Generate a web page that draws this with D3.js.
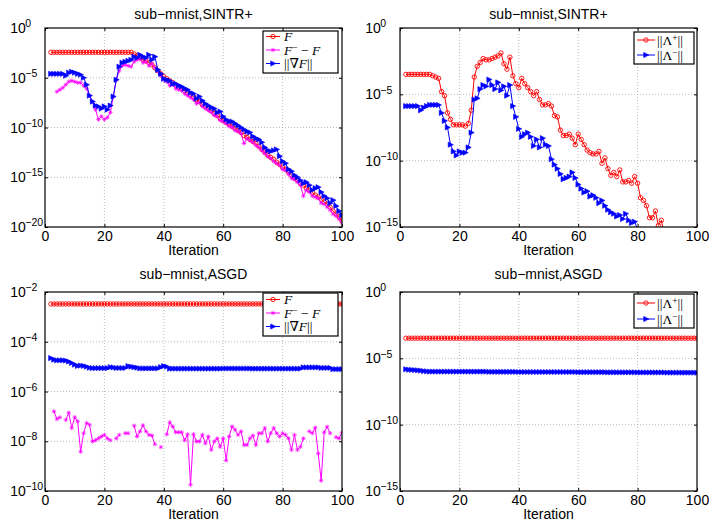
<!DOCTYPE html>
<html>
<head>
<meta charset="utf-8">
<script src="https://cdn.jsdelivr.net/npm/d3@7"></script>
<style>
  body { margin: 0; background: #fff; }
  svg { font-family: "Liberation Sans", Arial, Helvetica, sans-serif; }
</style>
</head>
<body>
<svg id="fig" width="709" height="525"></svg>
<script>
// iterations 2..100
const iterations = d3.range(2, 101);
const xTicks = [0, 20, 40, 60, 80, 100];

// ---- sub-mnist, SINTR+ (left) ----
const sintrF = [
  3.6e-3, 3.6e-3, 3.6e-3, 3.6e-3, 3.6e-3, 3.6e-3, 3.6e-3, 3.6e-3,
  3.6e-3, 3.6e-3, 3.6e-3, 3.6e-3, 3.6e-3, 3.6e-3, 3.6e-3, 3.6e-3, 3.6e-3, 3.6e-3,
  3.6e-3, 3.6e-3, 3.6e-3, 3.6e-3, 3.6e-3, 3.6e-3, 3.6e-3, 3.6e-3, 3.6e-3, 3.6e-3,
  2.5e-3, 1.6e-3, 1e-3, 6.3e-4, 5.0e-4, 3.2e-4, 2.0e-4, 1e-4, 5.0e-5, 2.5e-5,
  1.3e-5, 7.9e-6, 5.0e-6, 3.2e-6, 2.0e-6, 1.3e-6, 7.9e-7, 5.0e-7, 3.2e-7, 2.0e-7,
  1.3e-7, 6.3e-8, 4.0e-8, 2.0e-8, 1.3e-8, 7.9e-9, 5.0e-9, 2.5e-9, 1.6e-9, 7.9e-10,
  5.0e-10, 3.2e-10, 2.0e-10, 1.3e-10, 7.9e-11, 5.0e-11, 3.2e-11, 1.6e-11, 1e-11, 6.3e-12,
  4.0e-12, 2.5e-12, 1.3e-12, 6.3e-13, 3.2e-13, 1.6e-13, 1e-13, 6.3e-14, 3.2e-14, 2.0e-14,
  1e-14, 6.3e-15, 3.2e-15, 1.6e-15, 7.9e-16, 5.0e-16, 2.5e-16, 1.6e-16, 7.9e-17, 5.0e-17,
  3.2e-17, 1.6e-17, 1e-17, 6.3e-18, 3.2e-18, 2.0e-18, 1e-18, 4.0e-19, 2.0e-19, 1e-19,
  4.0e-20
];
const sintrGap = [
  null, null, 4.0e-7, 6.3e-7, 1e-6, 2.0e-6, 4.0e-6, 5.0e-6,
  4.0e-6, 3.2e-6, 3.2e-6, 1.6e-6, 7.9e-7, 1.6e-7, 4.0e-8, 6.3e-9, 6.3e-10, 1.3e-9,
  6.3e-10, 1e-9, 3.2e-9, 1.3e-7, 6.3e-6, 5.0e-5, 1.6e-4, 2.0e-4, 1.6e-4, 1.3e-4,
  4.0e-4, 6.3e-4, 7.9e-4, 3.2e-4, 4.0e-4, 1.6e-4, 2.5e-4, 1e-4, 5.0e-5, 1.6e-5,
  6.3e-6, 4.0e-6, 1.6e-6, 2.0e-6, 7.9e-7, 6.3e-7, 5.0e-7, 2.5e-7, 1.6e-7, 1e-7,
  6.3e-8, 2.5e-8, 3.2e-8, 1.3e-8, 7.9e-9, 5.0e-9, 3.2e-9, 1.6e-9, 1.3e-9, 5.0e-10,
  4.0e-10, 2.5e-10, 1.3e-10, 1e-10, 5.0e-11, 4.0e-11, 2.5e-11, 2.5e-12, 7.9e-12, 5.0e-12,
  3.2e-12, 1.6e-12, 1e-12, 5.0e-13, 2.5e-13, 1.3e-13, 7.9e-14, 4.0e-14, 2.5e-14, 1.6e-14,
  6.3e-15, 5.0e-15, 2.0e-15, 7.9e-16, 6.3e-16, 3.2e-16, 1.6e-16, 1.3e-17, 5.0e-17, 3.2e-17,
  1.3e-17, 1e-17, 7.9e-18, 2.5e-18, 2.0e-18, 1e-18, 5.0e-19, 2.0e-19, 1.3e-19, 6.3e-20,
  2.5e-20
];
const sintrGrad = [
  2.5e-5, 2.5e-5, 2.5e-5, 2.5e-5, 2.5e-5, 1.6e-5, 3.2e-5, 4.0e-5,
  3.2e-5, 2.5e-5, 2.0e-5, 1e-5, 2.0e-6, 1.6e-7, 4.0e-8, 1.6e-8, 1.3e-8, 7.9e-9,
  1.3e-8, 6.3e-9, 1.6e-8, 1.3e-7, 6.3e-6, 1.3e-4, 3.2e-4, 4.0e-4, 5.0e-4, 6.3e-4,
  1.3e-3, 1e-3, 2.0e-3, 1.3e-3, 1e-3, 2.0e-3, 6.3e-4, 1.3e-3, 6.3e-5, 2.5e-5,
  7.9e-6, 6.3e-6, 5.0e-6, 2.5e-6, 2.5e-6, 1.6e-6, 1.3e-6, 7.9e-7, 6.3e-7, 3.2e-7,
  2.5e-7, 7.9e-8, 1.3e-7, 5.0e-8, 2.5e-8, 1.6e-8, 1e-8, 7.9e-9, 3.2e-9, 4.0e-9,
  1.3e-9, 6.3e-10, 4.0e-10, 4.0e-10, 2.5e-10, 1.6e-10, 1e-10, 6.3e-11, 4.0e-11, 3.2e-11,
  1.3e-11, 7.9e-12, 6.3e-12, 3.2e-12, 1e-12, 5.0e-13, 4.0e-13, 5.0e-13, 6.3e-13, 1.3e-13,
  4.0e-14, 2.5e-14, 6.3e-15, 4.0e-15, 1.6e-15, 1e-15, 5.0e-16, 2.5e-16, 3.2e-16, 1.6e-16,
  5.0e-17, 7.9e-17, 1e-16, 3.2e-17, 1.3e-17, 7.9e-18, 2.5e-18, 5.0e-18, 1.3e-18, 4.0e-19,
  1.6e-19
];

// ---- sub-mnist, SINTR+ (right) ----
const sintrLamPlus = [
  3.2e-4, 3.2e-4, 3.2e-4, 3.2e-4, 3.2e-4, 3.2e-4, 3.2e-4, 3.2e-4,
  3.2e-4, 2.5e-4, 2.0e-4, 1.6e-4, 1.6e-5, 7.9e-6, 4.0e-7, 1.3e-7, 5.0e-8, 5.0e-8,
  5.0e-8, 5.0e-8, 4.0e-8, 6.3e-8, 6.3e-7, 2.0e-4, 1.3e-3, 2.5e-3, 5.0e-3, 4.0e-3,
  4.0e-3, 5.0e-3, 6.3e-3, 7.9e-3, 1.3e-2, 2.0e-3, 7.9e-4, 6.3e-3, 2.5e-4, 6.3e-5,
  3.2e-5, 1.6e-4, 6.3e-5, 3.2e-5, 1.6e-5, 7.9e-6, 1.6e-5, 4.0e-6, 1.6e-6, 1.6e-6,
  2.0e-6, 1.3e-6, 2.5e-7, 2.0e-7, 2.0e-8, 7.9e-9, 7.9e-9, 1e-8, 5.0e-9, 1.6e-9,
  1e-8, 4.0e-9, 1.6e-9, 6.3e-10, 4.0e-10, 3.2e-10, 3.2e-10, 5.0e-10, 6.3e-11, 1.6e-10,
  2.5e-11, 7.9e-12, 1.3e-11, 6.3e-12, 2.0e-11, 2.5e-12, 2.5e-12, 3.2e-12, 2.0e-12, 6.3e-12,
  2.0e-12, 1.6e-13, 1e-13, 4.0e-14, 5.0e-15, 5.0e-15, 1.6e-14, 1.3e-15, 3.2e-15, 2.5e-16,
  null, null, null, null, null, null, null, null, null, null,
  null
];
const sintrLamMinus = [
  1.3e-6, 1.3e-6, 1.3e-6, 1.3e-6, 1.3e-6, 6.3e-7, 1e-6, 1.3e-6,
  1.6e-6, 1.6e-6, 1.6e-6, 1.6e-6, 4.0e-7, 1e-7, 3.2e-8, 1.6e-9, 5.0e-10, 2.5e-10,
  5.0e-10, 4.0e-10, 4.0e-10, 1e-9, 1.3e-8, 4.0e-6, 5.0e-6, 2.5e-5, 5.0e-5, 4.0e-5,
  1.3e-4, 5.0e-5, 2.5e-5, 7.9e-5, 2.0e-5, 4.0e-5, 7.9e-6, 5.0e-5, 1.3e-6, 2.0e-7,
  2.5e-8, 6.3e-9, 1e-8, 1.3e-8, 6.3e-9, 1.3e-9, 4.0e-9, 1e-9, 5.0e-9, 1.6e-9,
  1.3e-9, 1.3e-10, 5.0e-11, 2.5e-11, 1e-11, 4.0e-12, 5.0e-12, 6.3e-12, 1.3e-11, 5.0e-12,
  1.6e-12, 7.9e-13, 4.0e-13, 5.0e-13, 2.0e-13, 2.5e-13, 1.6e-13, 6.3e-14, 1e-13, 4.0e-14,
  2.0e-14, 1.3e-14, 1e-14, 6.3e-15, 7.9e-15, 4.0e-15, 1e-14, 3.2e-15, 2.0e-15, 2.5e-15,
  6.3e-16, null, null, null, null, null, null, null, null, null,
  null, null, null, null, null, null, null, null, null, null,
  null
];

// ---- sub-mnist, ASGD (left) ----
const asgdF = [
  3.3e-3, 3.3e-3, 3.3e-3, 3.3e-3, 3.3e-3, 3.3e-3, 3.3e-3, 3.3e-3,
  3.3e-3, 3.3e-3, 3.3e-3, 3.3e-3, 3.3e-3, 3.3e-3, 3.3e-3, 3.3e-3, 3.3e-3, 3.3e-3,
  3.3e-3, 3.3e-3, 3.3e-3, 3.3e-3, 3.3e-3, 3.3e-3, 3.3e-3, 3.3e-3, 3.3e-3, 3.3e-3,
  3.3e-3, 3.3e-3, 3.3e-3, 3.3e-3, 3.3e-3, 3.3e-3, 3.3e-3, 3.3e-3, 3.3e-3, 3.3e-3,
  3.3e-3, 3.3e-3, 3.3e-3, 3.3e-3, 3.3e-3, 3.3e-3, 3.3e-3, 3.3e-3, 3.3e-3, 3.3e-3,
  3.3e-3, 3.3e-3, 3.3e-3, 3.3e-3, 3.3e-3, 3.3e-3, 3.3e-3, 3.3e-3, 3.3e-3, 3.3e-3,
  3.3e-3, 3.3e-3, 3.3e-3, 3.3e-3, 3.3e-3, 3.3e-3, 3.3e-3, 3.3e-3, 3.3e-3, 3.3e-3,
  3.3e-3, 3.3e-3, 3.3e-3, 3.3e-3, 3.3e-3, 3.3e-3, 3.3e-3, 3.3e-3, 3.3e-3, 3.3e-3,
  3.3e-3, 3.3e-3, 3.3e-3, 3.3e-3, 3.3e-3, 3.3e-3, 3.3e-3, 3.3e-3, 3.3e-3, 3.3e-3,
  3.3e-3, 3.3e-3, 3.3e-3, 3.3e-3, 3.3e-3, 3.3e-3, 3.3e-3, 3.3e-3, 3.3e-3, 3.3e-3,
  3.3e-3
];
const asgdGap = [
  null, 1.6e-7, 7.8e-8, 9.1e-8, null, 7.2e-8, 1.4e-7, 3.4e-8,
  9.3e-8, 6.3e-8, 3.8e-9, 2.1e-8, 5.4e-8, 4.6e-8, 9.8e-9, 1.1e-8, 1.3e-8, 1.55e-8,
  1.8e-8, 1.3e-8, 1.1e-8, null, 1.3e-8, 1.8e-8, null, 2.1e-8, 2.1e-8, null,
  4.2e-8, 1.55e-8, 2.5e-8, 4.4e-8, 2.5e-8, 1.8e-8, 1.7e-8, 7.6e-9, null, 5.8e-9,
  null, 1.9e-8, 5.8e-8, 3.9e-8, 2.3e-8, 2.3e-8, 2.3e-8, 1.1e-8, 1.9e-8, 1.8e-10,
  1.9e-8, 9.8e-9, 9.8e-9, 1.8e-8, 8.3e-9, 1.55e-8, 4.5e-9, 9.8e-9, 1.3e-8, 6.0e-9,
  1.3e-8, 1.7e-9, 1.55e-8, 3.9e-8, 2.9e-8, 1.8e-8, 2.5e-8, 7.1e-9, 7.1e-9, 1.3e-8,
  1.7e-8, 7.1e-9, 2.1e-8, 2.1e-8, 3.4e-8, 9.8e-9, 2.1e-8, 3.4e-8, 2.1e-8, 1.55e-8,
  2.1e-8, 1.8e-8, 1.3e-8, 4.5e-9, 1.8e-8, 4.5e-9, 6.0e-9, 1.3e-8, null, 2.5e-8,
  2.1e-8, 3.5e-8, 3.2e-9, 2.6e-10, 2.3e-8, 3.8e-8, 2.1e-8, null, 1.45e-8, 1.3e-8,
  2.2e-8
];
const asgdGrad = [
  2.2e-5, 1.9e-5, 1.8e-5, 1.8e-5, 1.8e-5, 1.75e-5, 1.6e-5, 1.4e-5,
  1.2e-5, 1.07e-5, 1.1e-5, 1.07e-5, 1.0e-5, 9.0e-6, 8.7e-6, 8.7e-6, 8.7e-6, 8.7e-6,
  8.7e-6, 8.7e-6, 9.5e-6, 9.3e-6, 8.8e-6, 8.8e-6, 8.8e-6, 8.8e-6, 1.05e-5, 1.0e-5,
  9.5e-6, 9.1e-6, 8.5e-6, 8.5e-6, 8.5e-6, 8.5e-6, 8.5e-6, 8.5e-6, 8.5e-6, 9.5e-6,
  1.05e-5, 1.0e-5, 8.3e-6, 8.3e-6, 8.3e-6, 8.3e-6, 8.3e-6, 8.3e-6, 8.3e-6, 8.3e-6,
  8.3e-6, 8.3e-6, 8.3e-6, 8.3e-6, 8.3e-6, 8.3e-6, 8.3e-6, 8.3e-6, 8.3e-6, 8.3e-6,
  8.4e-6, 8.4e-6, 8.4e-6, 8.4e-6, 8.4e-6, 8.4e-6, 8.4e-6, 8.4e-6, 8.4e-6, 8.4e-6,
  8.3e-6, 8.3e-6, 8.3e-6, 8.3e-6, 8.3e-6, 8.3e-6, 8.3e-6, 8.3e-6, 8.3e-6, 8.3e-6,
  8.3e-6, 8.3e-6, 8.3e-6, 8.3e-6, 8.3e-6, 8.3e-6, 8.3e-6, 9.3e-6, 9.3e-6, 9.3e-6,
  9.3e-6, 9.3e-6, 9.3e-6, 8.9e-6, 8.9e-6, 8.9e-6, 8.9e-6, 7.9e-6, 7.9e-6, 7.9e-6,
  7.9e-6
];

// ---- sub-mnist, ASGD (right) ----
const asgdLamPlus = [
  3.3e-4, 3.3e-4, 3.3e-4, 3.3e-4, 3.3e-4, 3.3e-4, 3.3e-4, 3.3e-4,
  3.3e-4, 3.3e-4, 3.3e-4, 3.3e-4, 3.3e-4, 3.3e-4, 3.3e-4, 3.3e-4, 3.3e-4, 3.3e-4,
  3.3e-4, 3.3e-4, 3.3e-4, 3.3e-4, 3.3e-4, 3.3e-4, 3.3e-4, 3.3e-4, 3.3e-4, 3.3e-4,
  3.3e-4, 3.3e-4, 3.3e-4, 3.3e-4, 3.3e-4, 3.3e-4, 3.3e-4, 3.3e-4, 3.3e-4, 3.3e-4,
  3.3e-4, 3.3e-4, 3.3e-4, 3.3e-4, 3.3e-4, 3.3e-4, 3.3e-4, 3.3e-4, 3.3e-4, 3.3e-4,
  3.3e-4, 3.3e-4, 3.3e-4, 3.3e-4, 3.3e-4, 3.3e-4, 3.3e-4, 3.3e-4, 3.3e-4, 3.3e-4,
  3.3e-4, 3.3e-4, 3.3e-4, 3.3e-4, 3.3e-4, 3.3e-4, 3.3e-4, 3.3e-4, 3.3e-4, 3.3e-4,
  3.3e-4, 3.3e-4, 3.3e-4, 3.3e-4, 3.3e-4, 3.3e-4, 3.3e-4, 3.3e-4, 3.3e-4, 3.3e-4,
  3.3e-4, 3.3e-4, 3.3e-4, 3.3e-4, 3.3e-4, 3.3e-4, 3.3e-4, 3.3e-4, 3.3e-4, 3.3e-4,
  3.3e-4, 3.3e-4, 3.3e-4, 3.3e-4, 3.3e-4, 3.3e-4, 3.3e-4, 3.3e-4, 3.3e-4, 3.3e-4,
  3.3e-4
];
const asgdLamMinus = [
  1.5e-6, 1.4e-6, 1.35e-6, 1.3e-6, 1.25e-6, 1.2e-6, 1.1e-6, 1.05e-6,
  1.0e-6, 1.0e-6, 1.0e-6, 1.0e-6, 1.0e-6, 1.0e-6, 1.0e-6, 1.0e-6, 1.0e-6, 1.0e-6,
  1.0e-6, 1.0e-6, 1.0e-6, 1.0e-6, 1.0e-6, 1.0e-6, 1.0e-6, 1.0e-6, 1.0e-6, 1.0e-6,
  9.6e-7, 9.6e-7, 9.6e-7, 9.6e-7, 9.6e-7, 9.6e-7, 9.6e-7, 9.6e-7, 9.6e-7, 9.6e-7,
  9.3e-7, 9.3e-7, 9.3e-7, 9.3e-7, 9.3e-7, 9.3e-7, 9.3e-7, 9.3e-7, 9.3e-7, 9.3e-7,
  9.3e-7, 9.3e-7, 9.3e-7, 9.3e-7, 9.3e-7, 9.3e-7, 9.3e-7, 9.3e-7, 9.3e-7, 9.3e-7,
  9.0e-7, 9.0e-7, 9.0e-7, 9.0e-7, 9.0e-7, 9.0e-7, 9.0e-7, 9.0e-7, 9.0e-7, 9.0e-7,
  8.8e-7, 8.8e-7, 8.8e-7, 8.8e-7, 8.8e-7, 8.8e-7, 8.8e-7, 8.8e-7, 8.8e-7, 8.8e-7,
  8.6e-7, 8.6e-7, 8.6e-7, 8.6e-7, 8.6e-7, 8.6e-7, 8.6e-7, 8.6e-7, 8.6e-7, 8.6e-7,
  8.4e-7, 8.4e-7, 8.4e-7, 8.4e-7, 8.4e-7, 8.4e-7, 8.4e-7, 8.4e-7, 8.4e-7, 8.4e-7,
  8.2e-7
];

// y tick values and exponent labels
const yTicksA = [1, 1e-5, 1e-10, 1e-15, 1e-20];
const yLabelsA = ['0', '\u22125', '\u221210', '\u221215', '\u221220'];
const yTicksB = [1, 1e-5, 1e-10, 1e-15];
const yLabelsB = ['0', '\u22125', '\u221210', '\u221215'];
const yTicksC = [1e-2, 1e-4, 1e-6, 1e-8, 1e-10];
const yLabelsC = ['\u22122', '\u22124', '\u22126', '\u22128', '\u221210'];

const RED = '#ff0000', MAG = '#ff00ff', BLUE = '#0000ff';

// legend label pieces: [text, style]  style: i=italic, s=superscript, n=normal
const lblF = [['F', 'i']];
const lblGap = [['F', 'i'], ['\u2212', 's'], [' \u2212 ', 'n'], ['F', 'i']];
const lblGrad = [['||\u2207', 'n'], ['F', 'i'], ['||', 'n']];
const lblLp = [['||\u039B', 'n'], ['+', 's'], ['||', 'n']];
const lblLm = [['||\u039B', 'n'], ['\u2212', 's'], ['||', 'n']];

const panels = [
  { left: 45, right: 342, top: 28, bottom: 227, yDomain: [1e-20, 1], yTicks: yTicksA, yLabels: yLabelsA,
    title: 'sub\u2212mnist,SINTR+', titleY: 19,
    series: [
      { values: sintrF, color: RED, marker: 'o', label: lblF },
      { values: sintrGap, color: MAG, marker: '+', label: lblGap },
      { values: sintrGrad, color: BLUE, marker: '>', label: lblGrad }
    ],
    legend: { x: 263, y: 31, w: 75, h: 42, rows: [36.5, 50, 63.5], l0: 266, l1: 280, tx: 284 } },
  { left: 400, right: 697, top: 28, bottom: 227, yDomain: [1e-15, 1], yTicks: yTicksB, yLabels: yLabelsB,
    title: 'sub\u2212mnist,SINTR+', titleY: 19,
    series: [
      { values: sintrLamPlus, color: RED, marker: 'o', label: lblLp },
      { values: sintrLamMinus, color: BLUE, marker: '>', label: lblLm }
    ],
    legend: { x: 634, y: 32, w: 60, h: 32, rows: [40, 55], l0: 637, l1: 655, tx: 657 } },
  { left: 45, right: 342, top: 292, bottom: 491, yDomain: [1e-10, 1e-2], yTicks: yTicksC, yLabels: yLabelsC,
    title: 'sub\u2212mnist,ASGD', titleY: 279,
    series: [
      { values: asgdF, color: RED, marker: 'o', label: lblF },
      { values: asgdGap, color: MAG, marker: '+', label: lblGap },
      { values: asgdGrad, color: BLUE, marker: '>', label: lblGrad }
    ],
    legend: { x: 263, y: 293, w: 75, h: 43, rows: [299.5, 313, 326.5], l0: 266, l1: 280, tx: 284 } },
  { left: 400, right: 697, top: 292, bottom: 491, yDomain: [1e-15, 1], yTicks: yTicksB, yLabels: yLabelsB,
    title: 'sub\u2212mnist,ASGD', titleY: 279,
    series: [
      { values: asgdLamPlus, color: RED, marker: 'o', label: lblLp },
      { values: asgdLamMinus, color: BLUE, marker: '>', label: lblLm }
    ],
    legend: { x: 634, y: 294, w: 60, h: 34, rows: [303, 319], l0: 637, l1: 655, tx: 657 } }
];

const svg = d3.select('#fig');

function drawMarkers(sel, type, color) {
  if (type === 'o') {
    sel.append('circle').attr('r', 2.2)
      .attr('fill', 'none').attr('stroke', color).attr('stroke-width', 0.9);
  } else if (type === '+') {
    sel.append('path').attr('d', 'M-2.2,0H2.2M0,-2.2V2.2M-1.5,-1.5L1.5,1.5M-1.5,1.5L1.5,-1.5')
      .attr('fill', 'none').attr('stroke', color).attr('stroke-width', 0.7);
  } else {
    sel.append('path').attr('d', 'M-2.3,-2.6L2.9,0L-2.3,2.6Z')
      .attr('fill', color).attr('stroke', color).attr('stroke-width', 0.6);
  }
}

function writeLabel(text, parts) {
  parts.forEach(([t, s]) => {
    const ts = text.append('tspan').text(t);
    if (s === 'i') ts.attr('font-style', 'italic');
    if (s === 's') ts.attr('font-size', 9.5).attr('baseline-shift', '40%');
  });
}

panels.forEach((p, idx) => {
  const x = d3.scaleLinear().domain([0, 100]).range([p.left, p.right]);
  const y = d3.scaleLog().domain(p.yDomain).range([p.bottom, p.top]);
  const g = svg.append('g');

  g.append('clipPath').attr('id', 'clip' + idx)
    .append('rect').attr('x', p.left).attr('y', p.top)
    .attr('width', p.right - p.left).attr('height', p.bottom - p.top);

  // dotted grid
  g.selectAll('.gx').data(xTicks.filter(t => t > 0 && t < 100)).join('line')
    .attr('x1', d => x(d)).attr('x2', d => x(d)).attr('y1', p.top).attr('y2', p.bottom)
    .attr('stroke', '#aaa').attr('stroke-width', 0.8).attr('stroke-dasharray', '1,2');
  g.selectAll('.gy').data(p.yTicks.slice(1, -1)).join('line')
    .attr('x1', p.left).attr('x2', p.right).attr('y1', d => y(d)).attr('y2', d => y(d))
    .attr('stroke', '#aaa').attr('stroke-width', 0.8).attr('stroke-dasharray', '1,2');

  // series
  const plot = g.append('g').attr('clip-path', `url(#clip${idx})`);
  const line = d3.line().defined(d => d.v != null).x(d => x(d.it)).y(d => y(d.v));
  p.series.forEach(s => {
    const pts = iterations.map((it, i) => ({ it: it, v: s.values[i] }));
    plot.append('path').datum(pts).attr('d', line)
      .attr('fill', 'none').attr('stroke', s.color).attr('stroke-width', 1);
    const m = plot.append('g').selectAll('g').data(pts.filter(d => d.v != null)).join('g')
      .attr('transform', d => `translate(${x(d.it)},${y(d.v)})`);
    drawMarkers(m, s.marker, s.color);
  });

  // ticks (inward, all four sides)
  const clean = a => a.call(sel => sel.select('.domain').remove());
  g.append('g').attr('transform', `translate(0,${p.bottom})`)
    .call(d3.axisBottom(x).tickValues(xTicks).tickSize(-3).tickPadding(4.5)).call(clean)
    .attr('font-size', 14).attr('font-family', null)
    .call(sel => sel.selectAll('line').attr('stroke', '#000'))
    .call(sel => sel.selectAll('text').attr('fill', '#000'));
  g.append('g').attr('transform', `translate(0,${p.top})`)
    .call(d3.axisTop(x).tickValues(xTicks).tickSize(-3).tickFormat('')).call(clean);
  g.append('g').attr('transform', `translate(${p.left},0)`)
    .call(d3.axisLeft(y).tickValues(p.yTicks).tickSize(-3).tickFormat('')).call(clean);
  g.append('g').attr('transform', `translate(${p.right},0)`)
    .call(d3.axisRight(y).tickValues(p.yTicks).tickSize(-3).tickFormat('')).call(clean);

  // log tick labels: 10^k
  const yl = g.selectAll('.ylab').data(p.yTicks).join('text')
    .attr('x', p.left - 34.8).attr('y', d => y(d) + 5)
    .attr('font-size', 14).attr('fill', '#000');
  yl.append('tspan').text('10');
  yl.append('tspan').attr('font-size', 10.5).attr('dx', -0.5).attr('dy', -5.8)
    .text((d, i) => p.yLabels[i]);

  // frame
  g.append('rect').attr('x', p.left).attr('y', p.top)
    .attr('width', p.right - p.left).attr('height', p.bottom - p.top)
    .attr('fill', 'none').attr('stroke', '#000').attr('stroke-width', 1.2);

  // title and x label
  g.append('text').attr('x', (p.left + p.right) / 2).attr('y', p.titleY)
    .attr('text-anchor', 'middle').attr('font-size', 14).text(p.title);
  g.append('text').attr('x', (p.left + p.right) / 2).attr('y', p.bottom + 28)
    .attr('text-anchor', 'middle').attr('font-size', 14).text('Iteration');

  // legend
  const L = p.legend;
  const lg = g.append('g');
  lg.append('rect').attr('x', L.x).attr('y', L.y).attr('width', L.w).attr('height', L.h)
    .attr('fill', '#fff').attr('stroke', '#000').attr('stroke-width', 1.2);
  p.series.forEach((s, i) => {
    const ry = L.rows[i];
    lg.append('line').attr('x1', L.l0).attr('x2', L.l1).attr('y1', ry).attr('y2', ry)
      .attr('stroke', s.color).attr('stroke-width', 1);
    const mk = lg.append('g').attr('transform', `translate(${(L.l0 + L.l1) / 2},${ry})`);
    drawMarkers(mk, s.marker, s.color);
    const t = lg.append('text').attr('x', L.tx).attr('y', ry + 4.5)
      .attr('font-family', '"Liberation Serif", "DejaVu Serif", serif').attr('font-size', 13.5)
      .attr('xml:space', 'preserve');
    writeLabel(t, s.label);
  });
});
</script>
</body>
</html>
